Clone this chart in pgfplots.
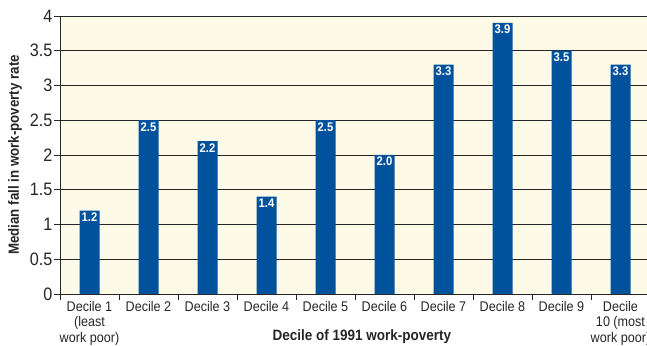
\documentclass[border=0pt]{standalone}
\usepackage{fontspec}
\setmainfont{Liberation Sans}[FakeStretch=0.9]
\usepackage{pgfplots}
\pgfplotsset{compat=1.18}
\definecolor{barblue}{HTML}{00529C}
\definecolor{bgcream}{HTML}{FEFAE8}
\begin{document}
\begin{tikzpicture}
\useasboundingbox (0bp,0bp) rectangle (647bp,346bp);
\begin{axis}[
  at={(60bp,52bp)}, anchor=south west,
  width=600bp, height=278bp, scale only axis,
  xmin=-0.5, xmax=9.6695, ymin=0, ymax=4,
  ybar, bar width=20bp,
  axis background/.style={fill=bgcream},
  axis line style={black!85, line width=0.9bp},
  ymajorgrids, grid style={black!85, line width=0.8bp},
  ytick={0,0.5,1,1.5,2,2.5,3,3.5,4},
  yticklabels={0,0.5,1,1.5,2,2.5,3,3.5,4},
  xtick={0,1,2,3,4,5,6,7,8,9},
  xticklabels={{Decile 1\\(least\\work poor)},{Decile 2},{Decile 3},{Decile 4},{Decile 5},{Decile 6},{Decile 7},{Decile 8},{Decile 9},{Decile\\10 (most\\work poor)}},
  minor xtick={-0.5,0.5,1.5,2.5,3.5,4.5,5.5,6.5,7.5,8.5},
  xtick pos=bottom, ytick pos=left,
  every major x tick/.style={draw=none},
  every minor x tick/.style={draw=black!85, line width=0.8bp},
  every major y tick/.style={draw=black!85, line width=0.8bp},
  tick align=outside, major tick length=6bp, minor tick length=6bp,
  xticklabel style={align=center, font=\fontsize{14bp}{15.5bp}\selectfont, text=black!85, inner sep=1bp},
  yticklabel style={font=\fontsize{18bp}{19bp}\selectfont, text=black!85, inner sep=1.5bp},
  /pgf/number format/assume math mode=true,
  xlabel={Decile of 1991 work-poverty},
  xlabel style={at={(axis description cs:0.5033,0)}, anchor=center, yshift=-43bp, font=\bfseries\fontsize{15bp}{16bp}\selectfont, text=black!85},
  ylabel={Median fall in work-poverty rate},
  ylabel style={at={(axis description cs:-0.075,0.5)}, anchor=center, font=\bfseries\fontsize{14.8bp}{15bp}\selectfont, text=black!85},
  nodes near coords,
  nodes near coords align={below},
  point meta=explicit symbolic,
  every node near coord/.append style={text=white, font=\bfseries\fontsize{12.5bp}{13bp}\selectfont, inner sep=2bp},
]
\addplot[fill=barblue, draw=none] coordinates {
  (0,1.2) [1.2]
  (1,2.5) [2.5]
  (2,2.2) [2.2]
  (3,1.4) [1.4]
  (4,2.5) [2.5]
  (5,2.0) [2.0]
  (6,3.3) [3.3]
  (7,3.9) [3.9]
  (8,3.5) [3.5]
  (9,3.3) [3.3]
};
\end{axis}
\end{tikzpicture}
\end{document}
